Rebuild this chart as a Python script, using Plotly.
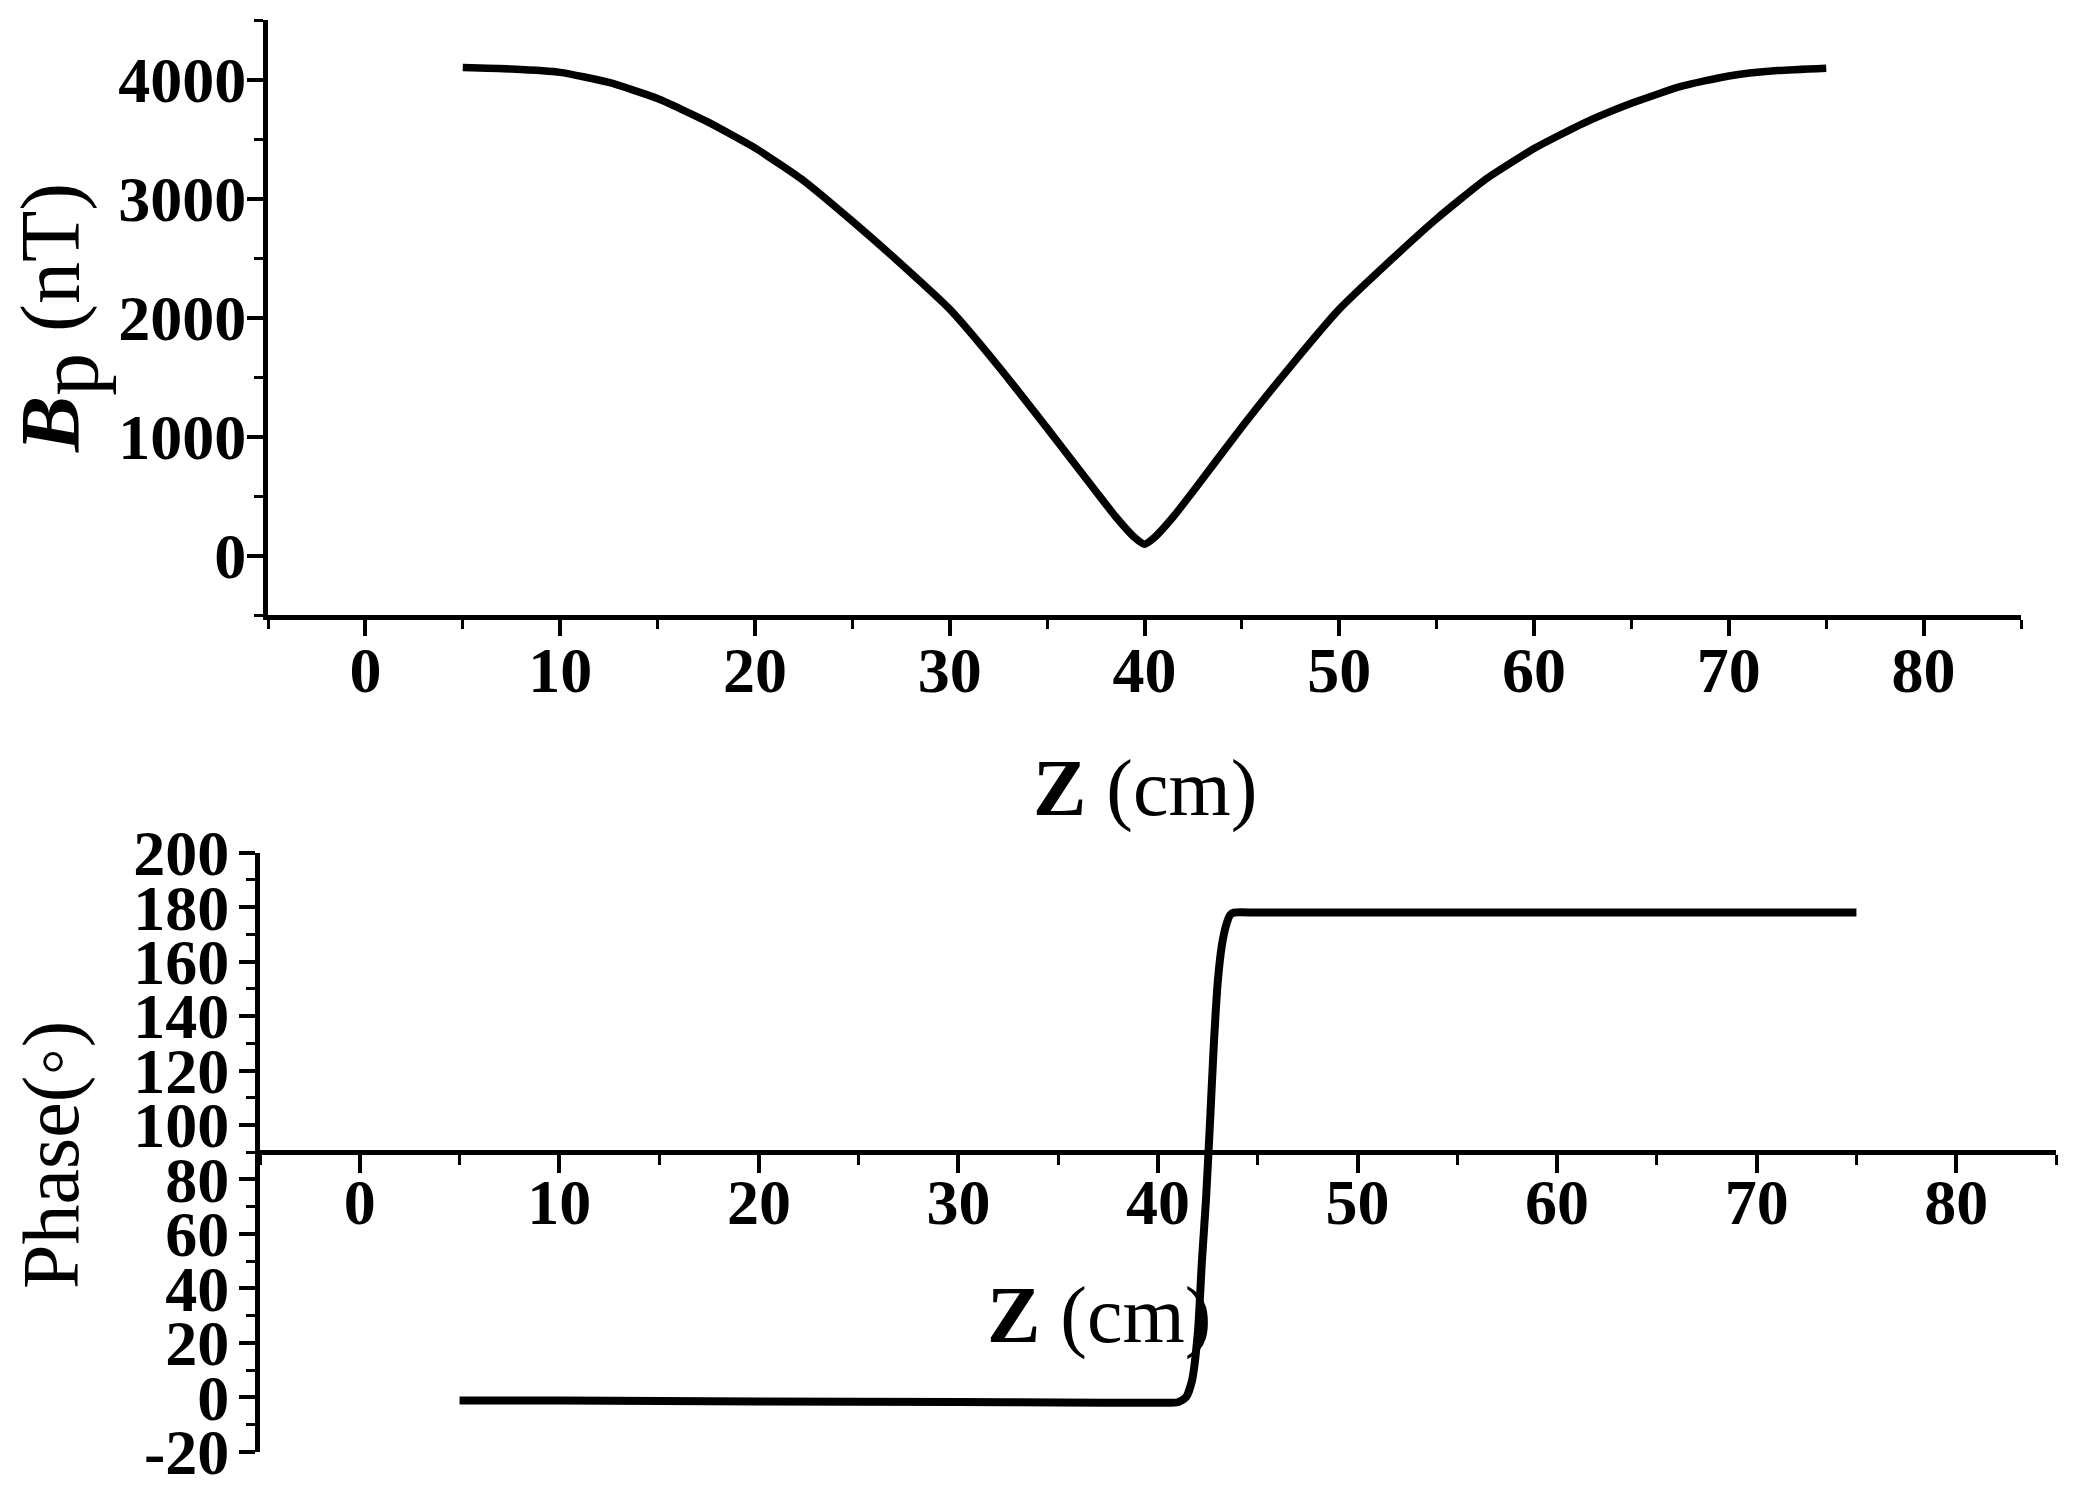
import plotly.graph_objects as go

W, H = 2086, 1495
OFF = 8  # page body margin around the figure
FW, FH = W - 2 * OFF, H - 2 * OFF
SERIF = "Liberation Serif, Times New Roman, serif"

# upper panel: field Bp (nT) along Z (cm)
z_bp = [5, 7.5, 10, 12.5, 15, 17.5, 20, 22.5, 25, 27.5, 30, 32.5, 35, 37.5, 38.5, 39.5, 40,
        40.5, 41.5, 42.5, 45, 47.5, 50, 52.5, 55, 57.5, 60, 62.5, 65, 67.5, 70, 72.5, 75]
bp = [4100, 4088, 4060, 3975, 3840, 3650, 3425, 3150, 2810, 2450, 2070, 1590, 1070, 540, 330, 150, 95,
      150, 330, 540, 1080, 1590, 2070, 2460, 2830, 3160, 3420, 3630, 3800, 3940, 4030, 4075, 4095]

# lower panel: phase (deg) along Z (cm)
z_ph = [5, 10, 20, 30, 35, 40, 41, 41.4, 41.7, 42.0, 42.2, 42.4, 42.6, 42.8, 43.0, 43.2,
        43.4, 43.6, 43.8, 45, 50, 60, 70, 75]
phase = [-1.2, -1.2, -1.5, -1.7, -1.9, -2, -1.8, 0, 6, 24, 50, 72, 100, 130, 153, 166,
         173, 177, 178, 178, 178, 178, 178, 178]

bp_ticks = [0, 1000, 2000, 3000, 4000]
ph_ticks = list(range(-20, 201, 20))
z_ticks = list(range(0, 81, 10))

bp_range = [-500, 4500]
ph_range = [-20, 200]
z_range = [-5, 85]
ph_cross = 90  # lower x axis crosses the phase axis here

tickfont = dict(family=SERIF, size=64, color="black", weight="bold")
titlefont = dict(family=SERIF, size=80, color="black")


def px_x(x):
    return (x - OFF) / FW


def px_y(y):
    return 1 - (y - OFF) / FH


def axis_style(**kw):
    d = dict(
        showline=True, linecolor="black", linewidth=5,
        ticks="outside", ticklen=16, tickwidth=3.5, tickcolor="black",
        showgrid=False, zeroline=False, tickfont=tickfont, automargin=False,
        ticklabeloverflow="allow",
    )
    d.update(kw)
    return d


def minor_ticks(step, length=9):
    return dict(ticks="outside", ticklen=length, tickwidth=3, tickcolor="black",
                dtick=step, tick0=0, showgrid=False)


fig = go.Figure()
fig.add_trace(go.Scatter(
    x=z_bp, y=bp, mode="lines", xaxis="x", yaxis="y",
    line=dict(color="black", width=7.5, shape="spline", smoothing=0.5),
    showlegend=False,
))
fig.add_trace(go.Scatter(
    x=z_ph, y=phase, mode="lines", xaxis="x2", yaxis="y2",
    line=dict(color="black", width=8, shape="spline", smoothing=0.6),
    showlegend=False,
))

top_y = [px_y(615), px_y(20)]
bot_y = [px_y(1451.8), px_y(852.7)]
cross_pos = bot_y[0] + (ph_cross - ph_range[0]) / (ph_range[1] - ph_range[0]) * (bot_y[1] - bot_y[0])

fig.update_layout(
    width=FW, height=FH,
    margin=dict(l=0, r=0, t=0, b=0, autoexpand=False),
    paper_bgcolor="white", plot_bgcolor="white",
    xaxis=axis_style(
        domain=[px_x(268), px_x(2021)], anchor="y", range=z_range,
        tickvals=z_ticks, ticktext=[str(v) for v in z_ticks],
        minor=minor_ticks(5), ticklabelstandoff=-21,
    ),
    yaxis=axis_style(
        domain=top_y, anchor="x", range=bp_range,
        tickvals=bp_ticks, ticktext=[str(v) for v in bp_ticks],
        minor=minor_ticks(500), ticklabelstandoff=-12,
    ),
    xaxis2=axis_style(
        domain=[px_x(260), px_x(2056)], anchor="free", position=cross_pos, range=z_range,
        tickvals=z_ticks, ticktext=[str(v) for v in z_ticks],
        minor=minor_ticks(5, 10), ticklen=18, ticklabelstandoff=-26,
    ),
    yaxis2=axis_style(
        domain=bot_y, anchor="x2", range=ph_range,
        tickvals=ph_ticks, ticktext=[str(v) for v in ph_ticks],
        minor=minor_ticks(10), ticklabelstandoff=-3,
    ),
    annotations=[
        dict(text="<b><i>B</i></b><sub><span style='font-size:86px'>p</span></sub> (nT)",
             textangle=-90, x=px_x(60), y=px_y(318),
             xref="paper", yref="paper", showarrow=False, font=dict(titlefont, size=84),
             xanchor="center", yanchor="middle"),
        dict(text="<b>Z</b> (cm)", x=px_x(1145), y=px_y(788),
             xref="paper", yref="paper", showarrow=False, font=titlefont,
             xanchor="center", yanchor="middle"),
        dict(text="Phase(\u25e6)", textangle=-90, x=px_x(51), y=px_y(1155),
             xref="paper", yref="paper", showarrow=False, font=titlefont,
             xanchor="center", yanchor="middle"),
        dict(text="<b>Z</b> (cm)", x=px_x(1099), y=px_y(1315),
             xref="paper", yref="paper", showarrow=False, font=titlefont,
             xanchor="center", yanchor="middle"),
    ],
)

fig.write_html("out.html")
